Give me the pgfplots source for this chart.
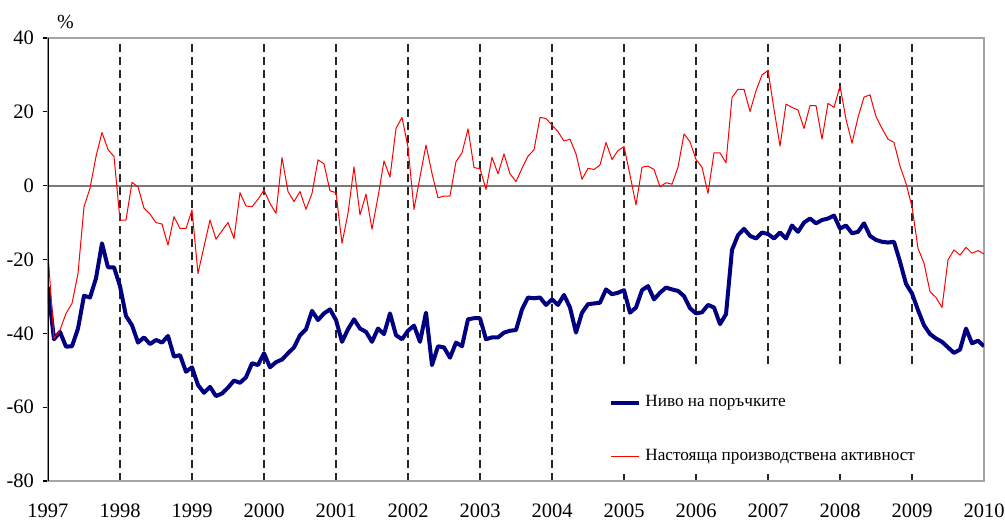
\documentclass[border=0pt]{standalone}
\usepackage{fontspec}
\setmainfont{Liberation Serif}
\usepackage{pgfplots}
\usepackage{pgfplotstable}
\pgfplotsset{compat=1.18}
\definecolor{navyb}{HTML}{000080}
\definecolor{zerog}{HTML}{7A7A7A}
\pgfplotstableread{
i blue red
0 -27.4 -18.2
1 -41.6 -41.4
2 -39.6 -39.1
3 -43.6 -34.6
4 -43.5 -31.9
5 -38.7 -23.8
6 -29.8 -5.7
7 -30.3 -0.7
8 -25.1 7.9
9 -15.6 14.4
10 -22.1 9.8
11 -22.1 7.9
12 -27.2 -9.3
13 -35.3 -9.3
14 -37.8 0.9
15 -42.5 -0.3
16 -41.1 -6.1
17 -42.9 -7.7
18 -41.8 -10.0
19 -42.5 -10.4
20 -40.7 -16.1
21 -46.3 -8.4
22 -45.9 -11.6
23 -50.4 -11.6
24 -49.2 -6.6
25 -54.0 -23.8
26 -56.1 -16.5
27 -54.5 -9.3
28 -57.0 -14.5
29 -56.3 -12.2
30 -54.7 -10.0
31 -52.8 -14.3
32 -53.4 -1.9
33 -51.9 -5.5
34 -48.1 -5.7
35 -48.6 -3.7
36 -45.4 -1.2
37 -49.2 -4.8
38 -47.8 -7.5
39 -47.1 7.6
40 -45.4 -1.6
41 -43.8 -4.3
42 -40.5 -1.6
43 -38.9 -6.4
44 -33.9 -2.1
45 -36.4 7.0
46 -34.6 5.9
47 -33.5 -1.4
48 -36.4 -1.9
49 -42.3 -15.6
50 -38.9 -7.5
51 -36.2 5.1
52 -38.7 -7.9
53 -39.6 -2.3
54 -42.3 -11.8
55 -38.7 -3.0
56 -40.2 6.7
57 -34.6 2.3
58 -40.5 15.5
59 -41.6 18.5
60 -39.3 10.4
61 -37.9 -6.4
62 -42.3 2.4
63 -34.4 11.0
64 -48.6 3.3
65 -43.5 -3.3
66 -43.8 -2.8
67 -46.6 -2.8
68 -42.5 6.5
69 -43.5 8.9
70 -36.2 15.4
71 -35.9 4.9
72 -35.9 4.6
73 -41.6 -1.0
74 -41.1 7.7
75 -41.1 3.2
76 -39.8 8.6
77 -39.3 3.2
78 -39.1 1.1
79 -33.5 4.7
80 -30.3 8.0
81 -30.5 9.7
82 -30.3 18.5
83 -32.3 18.2
84 -30.8 16.4
85 -32.3 14.6
86 -29.6 12.1
87 -33.0 12.6
88 -39.8 8.6
89 -34.4 1.7
90 -32.1 4.7
91 -31.9 4.4
92 -31.7 5.6
93 -28.1 11.7
94 -29.4 7.1
95 -29.0 9.5
96 -28.3 10.6
97 -34.4 2.9
98 -33.0 -5.2
99 -28.3 5.0
100 -27.2 5.3
101 -30.8 4.4
102 -29.0 -0.3
103 -27.6 0.8
104 -28.1 0.4
105 -28.5 5.0
106 -29.9 14.0
107 -33.2 11.9
108 -34.6 7.1
109 -34.3 5.0
110 -32.3 -2.1
111 -33.0 8.9
112 -37.5 8.9
113 -34.8 6.2
114 -17.4 23.9
115 -13.4 26.1
116 -11.7 26.1
117 -13.6 20.1
118 -14.3 25.7
119 -12.7 30.0
120 -13.1 31.2
121 -14.3 20.7
122 -12.7 10.7
123 -14.3 22.1
124 -10.8 21.2
125 -12.5 20.5
126 -10.0 15.5
127 -8.9 21.7
128 -10.2 21.7
129 -9.3 12.6
130 -8.9 22.3
131 -8.1 21.2
132 -11.6 27.0
133 -10.8 18.0
134 -12.9 11.5
135 -12.5 18.5
136 -10.2 24.0
137 -13.6 24.6
138 -14.7 18.7
139 -15.2 15.5
140 -15.4 12.6
141 -15.2 11.7
142 -20.6 5.3
143 -26.6 0.6
144 -29.2 -5.7
145 -33.7 -17.0
146 -37.8 -21.0
147 -40.2 -28.7
148 -41.4 -30.3
149 -42.3 -33.0
150 -43.8 -20.1
151 -45.3 -17.4
152 -44.4 -18.8
153 -38.7 -16.7
154 -42.7 -18.3
155 -42.0 -17.6
156 -43.5 -18.5
}\datatable

\begin{document}
\begin{tikzpicture}
\begin{axis}[name=ax,
  scale only axis, width=468pt, height=221.5pt,
  xmin=0, xmax=156, ymin=-80, ymax=40,
  xtick={0,12,...,156},
  xticklabels={1997,1998,1999,2000,2001,2002,2003,2004,2005,2006,2007,2008,2009,2010},
  ytick={-80,-60,...,40},
  xmajorgrids,
  major x grid style={black!85, line width=0.6pt, dash pattern=on 4pt off 2.5pt},
  xtick style={draw=none},
  ytick align=outside, ytick pos=left,
  major tick length=2.5pt,
  ytick style={black, line width=0.6pt},
  axis line style={gray!70, line width=0.6pt},
  tick label style={font=\fontsize{10.25}{12}\selectfont},
  /pgf/number format/assume math mode=true,
  xticklabel style={yshift=-8pt},
  yticklabel style={xshift=-1pt},
  legend style={at={(axis cs:93.5,-55.7)}, anchor=north west, draw=none, fill=none,
    inner sep=0pt, font=\fontsize{8.6}{10}\selectfont, row sep=15.5pt},
  legend cell align=left,
  legend image code/.code={\draw[#1] (0pt,0pt) -- (14pt,0pt);},
]
\fill[white] (axis cs:92,-49.4) rectangle (axis cs:154.5,-78);
\draw[zerog, line width=1pt] (axis cs:0,0) -- (axis cs:156,0);
\addplot[navyb, line width=2pt, line join=round] table[x=i, y=blue] {\datatable};
\addlegendentry{Ниво на поръчките}
\addplot[red, line width=0.5pt, line join=round] table[x=i, y=red] {\datatable};
\addlegendentry{Настояща производствена активност}
\draw[black, line width=0.75pt] (rel axis cs:0,0) -- (rel axis cs:0,1);
\end{axis}
\node[font=\fontsize{10}{12}\selectfont] at ([xshift=8.75pt,yshift=8pt]ax.north west) {\%};
\pgfresetboundingbox
\useasboundingbox ([xshift=-24pt,yshift=-21pt]ax.south west) rectangle ([xshift=10.5pt,yshift=19pt]ax.north east);
\end{tikzpicture}
\end{document}
